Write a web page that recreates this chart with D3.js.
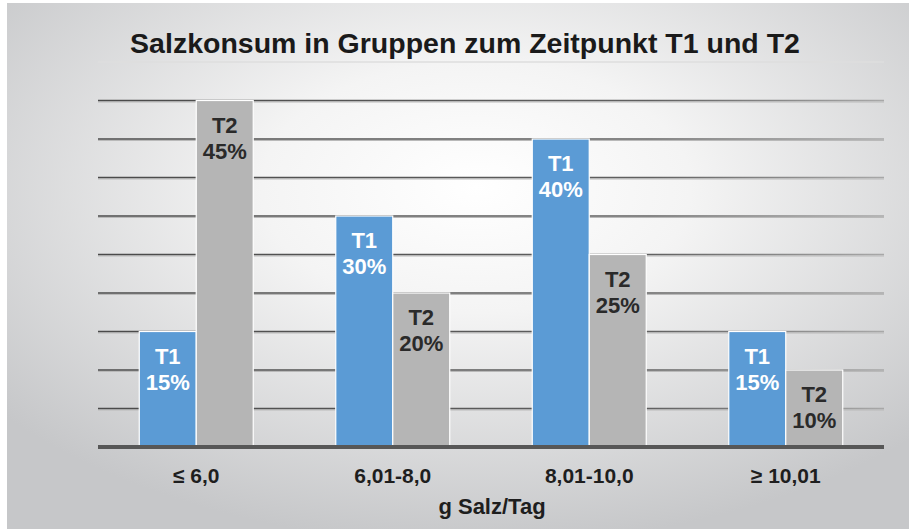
<!DOCTYPE html>
<html>
<head>
<meta charset="utf-8">
<script src="https://cdn.jsdelivr.net/npm/d3@7"></script>
<style>
  body { margin: 0; background: #fff; }
  svg { display: block; font-family: "Liberation Sans", Arial, sans-serif; }
</style>
</head>
<body>
<div id="chart"></div>
<script>
// data
var groups = ["≤ 6,0", "6,01-8,0", "8,01-10,0", "≥ 10,01"];
var series = ["T1", "T2"];
var t1 = [15, 30, 40, 15];
var t2 = [45, 20, 25, 10];
var yTicks = [0, 5, 10, 15, 20, 25, 30, 35, 40, 45, 50];

var width = 909, height = 529;
var margin = {top: 62, right: 25, bottom: 82, left: 98};

var svg = d3.select("#chart").append("svg")
    .attr("width", width)
    .attr("height", height);

var defs = svg.append("defs");
var bg = defs.append("radialGradient")
    .attr("id", "bg")
    .attr("cx", "52%").attr("cy", "35%").attr("r", "68%");
bg.append("stop").attr("offset", "0%").attr("stop-color", "#ffffff");
bg.append("stop").attr("offset", "35%").attr("stop-color", "#f4f4f4");
bg.append("stop").attr("offset", "100%").attr("stop-color", "#c6c7c9");

var gl = defs.append("linearGradient")
    .attr("id", "gridcol")
    .attr("gradientUnits", "userSpaceOnUse")
    .attr("x1", margin.left).attr("x2", width - margin.right)
    .attr("y1", 0).attr("y2", 0);
gl.append("stop").attr("offset", "0%").attr("stop-color", "#4a4a4a");
gl.append("stop").attr("offset", "70%").attr("stop-color", "#606060");
gl.append("stop").attr("offset", "100%").attr("stop-color", "#a8a8a8");

// panel
svg.append("rect")
    .attr("x", 7).attr("y", 3)
    .attr("width", width - 7).attr("height", height - 3)
    .attr("fill", "url(#bg)");

var x0 = d3.scaleBand()
    .domain(groups)
    .range([margin.left, width - margin.right])
    .paddingInner(0.42)
    .paddingOuter(0.21);

var x1 = d3.scaleBand()
    .domain(series)
    .range([0, x0.bandwidth()]);

var y = d3.scaleLinear()
    .domain([0, 50])
    .range([height - margin.bottom, margin.top]);

// gridlines
var grid = svg.append("g");
grid.selectAll("line.shadow")
    .data(yTicks.slice(1, -1))
    .enter().append("line")
    .attr("class", "shadow")
    .attr("x1", margin.left).attr("x2", width - margin.right)
    .attr("y1", function(d) { return y(d) + 1.5; })
    .attr("y2", function(d) { return y(d) + 1.5; })
    .attr("stroke", "#b9b9b9")
    .attr("stroke-width", 1.2);
grid.selectAll("line.main")
    .data(yTicks.slice(1))
    .enter().append("line")
    .attr("class", "main")
    .attr("x1", margin.left).attr("x2", width - margin.right)
    .attr("y1", function(d) { return y(d); })
    .attr("y2", function(d) { return y(d); })
    .attr("stroke", function(d) { return d == 50 ? "#dedede" : "url(#gridcol)"; })
    .attr("stroke-width", function(d) { return d == 50 ? 1.5 : 1.6; });

// bars
var data = [];
groups.forEach(function(g, i) {
    data.push({group: g, key: "T1", value: t1[i]});
    data.push({group: g, key: "T2", value: t2[i]});
});

var color = {T1: "#5b9bd5", T2: "#b5b5b5"};
var textColor = {T1: "#ffffff", T2: "#2a2a2a"};

var bars = svg.append("g").selectAll("g")
    .data(data)
    .enter().append("g");

bars.append("rect")
    .attr("x", function(d) { return x0(d.group) + x1(d.key); })
    .attr("y", function(d) { return y(d.value); })
    .attr("width", x1.bandwidth())
    .attr("height", function(d) { return y(0) - y(d.value); })
    .attr("fill", function(d) { return color[d.key]; })
    .attr("stroke", "#ffffff")
    .attr("stroke-width", 1.2);

bars.append("text")
    .attr("x", function(d) { return x0(d.group) + x1(d.key) + x1.bandwidth() / 2; })
    .attr("y", function(d) { return y(d.value) + 32; })
    .attr("text-anchor", "middle")
    .attr("font-size", 22)
    .attr("font-weight", "bold")
    .attr("fill", function(d) { return textColor[d.key]; })
    .text(function(d) { return d.key; });

bars.append("text")
    .attr("x", function(d) { return x0(d.group) + x1(d.key) + x1.bandwidth() / 2; })
    .attr("y", function(d) { return y(d.value) + 58; })
    .attr("text-anchor", "middle")
    .attr("font-size", 22)
    .attr("font-weight", "bold")
    .attr("fill", function(d) { return textColor[d.key]; })
    .text(function(d) { return d.value + "%"; });

// x axis
var xAxis = svg.append("g")
    .attr("transform", "translate(0," + y(0) + ")")
    .call(d3.axisBottom(x0).tickSize(0).tickPadding(0));
xAxis.select(".domain").remove();
xAxis.append("line")
    .attr("x1", margin.left).attr("x2", width - margin.right)
    .attr("y1", 0).attr("y2", 0)
    .attr("stroke", "#575757")
    .attr("stroke-width", 4);
xAxis.selectAll(".tick text")
    .attr("dy", 0)
    .attr("y", 36)
    .attr("font-family", "Liberation Sans, Arial, sans-serif")
    .attr("font-size", 21)
    .attr("font-weight", "bold")
    .attr("fill", "#1e1e1e");

svg.append("text")
    .attr("x", 492)
    .attr("y", 514)
    .attr("text-anchor", "middle")
    .attr("font-size", 22)
    .attr("font-weight", "bold")
    .attr("fill", "#1e1e1e")
    .text("g Salz/Tag");

// title
svg.append("text")
    .attr("x", 465)
    .attr("y", 53)
    .attr("text-anchor", "middle")
    .attr("font-size", 28.5)
    .attr("font-weight", "bold")
    .attr("fill", "#1a1a1a")
    .text("Salzkonsum in Gruppen zum Zeitpunkt T1 und T2");
</script>
</body>
</html>
